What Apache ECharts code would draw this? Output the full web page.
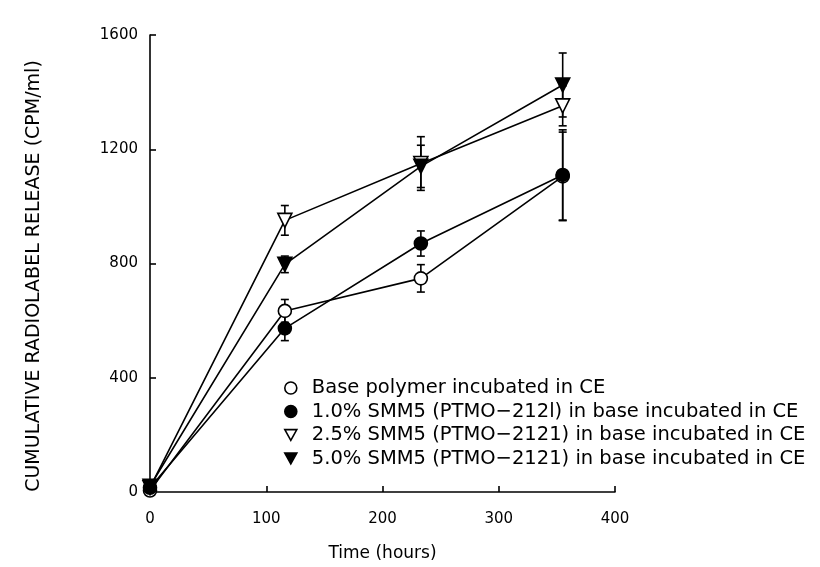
<!DOCTYPE html>
<html>
<head>
<meta charset="utf-8">
<script src="https://cdn.jsdelivr.net/npm/echarts@6/dist/echarts.min.js"></script>
<style>html,body{margin:0;padding:0;background:#fff;}#c{width:820px;height:567px;}</style>
</head>
<body>
<div id="c"></div>
<script>
// ---- data ----
const times = [0, 116, 233, 355];
const xTicks = [0, 100, 200, 300, 400];
const yTicks = [0, 400, 800, 1200, 1600];

const seriesNames = [
  'Base polymer incubated in CE',
  '1.0% SMM5 (PTMO\u2212212l) in base incubated in CE',
  '2.5% SMM5 (PTMO\u22122121) in base incubated in CE',
  '5.0% SMM5 (PTMO\u22122121) in base incubated in CE'
];

const baseVals  = [5, 634, 748, 1105];
const baseErr   = [0, 40, 48, 155];
const smm10Vals = [15, 573, 870, 1110];
const smm10Err  = [0, 43, 44, 158];
const smm25Vals = [15, 951, 1150, 1352];
const smm25Err  = [0, 52, 94, 70];
const smm50Vals = [20, 797, 1140, 1425];
const smm50Err  = [0, 29, 74, 112];

const yTitle = 'CUMULATIVE RADIOLABEL RELEASE (CPM/ml)';
const xTitle = 'Time (hours)';

// ---- chart ----
const FONT = 'DejaVu Sans';
const triDown = 'path://M0,0 L10,0 L5,9 Z';

const defs = [
  {name: seriesNames[0], vals: baseVals,  err: baseErr,  symbol: 'circle', rot: 0,   fill: '#fff'},
  {name: seriesNames[1], vals: smm10Vals, err: smm10Err, symbol: 'circle', rot: 0,   fill: '#000'},
  {name: seriesNames[2], vals: smm25Vals, err: smm25Err, symbol: 'triangle', rot: 180, fill: '#fff'},
  {name: seriesNames[3], vals: smm50Vals, err: smm50Err, symbol: 'triangle', rot: 180, fill: '#000'}
];

function pairs(vals) { return times.map((t, i) => [t, vals[i]]); }
function errTriples(vals, err) { return times.map((t, i) => [t, vals[i], err[i]]); }

const series = [];
defs.forEach(d => {
  series.push({
    type: 'custom',
    name: d.name + ' err',
    z: 1,
    silent: true,
    data: errTriples(d.vals, d.err),
    renderItem: function (params, api) {
      const x = api.value(0), y = api.value(1), e = api.value(2);
      if (!e) return null;
      const top = api.coord([x, y + e]);
      const bot = api.coord([x, y - e]);
      const cw = 4;
      const st = {stroke: '#000', lineWidth: 1.6};
      return {
        type: 'group',
        children: [
          {type: 'line', shape: {x1: top[0], y1: top[1], x2: bot[0], y2: bot[1]}, style: st},
          {type: 'line', shape: {x1: top[0] - cw, y1: top[1], x2: top[0] + cw, y2: top[1]}, style: st},
          {type: 'line', shape: {x1: bot[0] - cw, y1: bot[1], x2: bot[0] + cw, y2: bot[1]}, style: st}
        ]
      };
    }
  });
  series.push({
    type: 'line',
    name: d.name,
    z: 3,
    data: pairs(d.vals),
    symbol: d.symbol,
    symbolRotate: d.rot,
    symbolSize: d.symbol === 'circle' ? 13 : 14,
    showAllSymbol: true,
    clip: false,
    lineStyle: {color: '#000', width: 1.6},
    itemStyle: {color: d.fill, borderColor: '#000', borderWidth: 1.6},
    emphasis: {disabled: true},
    animation: false
  });
});

const legendData = defs.map(d => ({
  name: d.name,
  icon: d.symbol === 'circle' ? 'circle' : triDown,
  itemStyle: {color: d.fill, borderColor: '#000', borderWidth: 1.6}
}));

const chart = echarts.init(document.getElementById('c'), null, {renderer: 'canvas'});
chart.setOption({
  animation: false,
  backgroundColor: '#fff',
  grid: {left: 150, right: 205, top: 35, bottom: 70, containLabel: false},
  legend: {
    data: legendData,
    orient: 'vertical',
    left: 279,
    top: 373,
    itemWidth: 12,
    itemHeight: 12,
    itemGap: 3.5,
    selectedMode: false,
    textStyle: {fontFamily: FONT, fontSize: 19.5, color: '#000', lineHeight: 18.5, padding: [0, 0, 0, 10]}
  },
  graphic: [{
    type: 'text',
    x: 34,
    y: 276,
    rotation: Math.PI / 2,
    style: {text: yTitle, fontFamily: FONT, fontSize: 19, fill: '#000', align: 'center', verticalAlign: 'middle'}
  }],
  xAxis: {
    type: 'value',
    min: xTicks[0],
    max: xTicks[xTicks.length - 1],
    interval: xTicks[1] - xTicks[0],
    name: xTitle,
    nameLocation: 'middle',
    nameGap: 53,
    nameTextStyle: {fontFamily: FONT, fontSize: 17, color: '#000'},
    axisLine: {lineStyle: {color: '#000', width: 1.6}},
    axisTick: {inside: true, length: 6, lineStyle: {color: '#000', width: 1.6}},
    axisLabel: {fontFamily: FONT, fontSize: 15, color: '#000', margin: 20, formatter: v => String(v)},
    splitLine: {show: false}
  },
  yAxis: {
    type: 'value',
    min: yTicks[0],
    max: yTicks[yTicks.length - 1],
    interval: yTicks[1] - yTicks[0],
    axisLine: {show: true, lineStyle: {color: '#000', width: 1.6}},
    axisTick: {show: true, inside: true, length: 6, lineStyle: {color: '#000', width: 1.6}},
    axisLabel: {fontFamily: FONT, fontSize: 15, color: '#000', margin: 12, formatter: v => String(v)},
    splitLine: {show: false}
  },
  series: series
});
</script>
</body>
</html>
